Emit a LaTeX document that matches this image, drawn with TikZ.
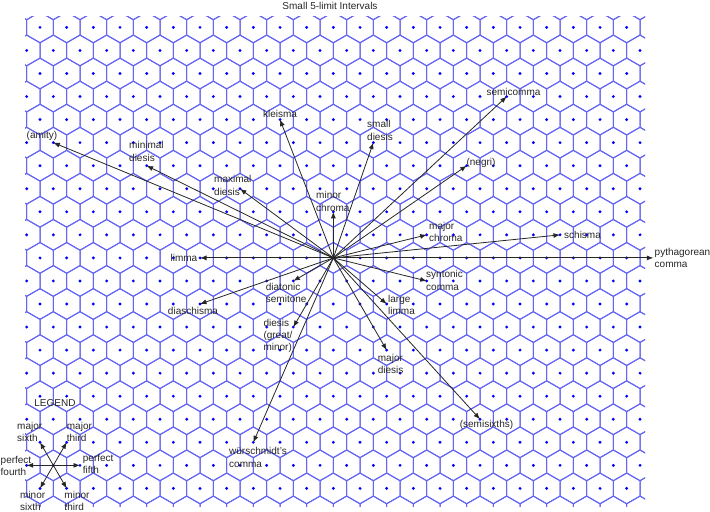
\documentclass[tikz,border=0pt]{standalone}
\usepackage{fontspec}
\setmainfont{Liberation Sans}
\usetikzlibrary{arrows.meta}
\definecolor{hexblue}{RGB}{100,100,245}
\definecolor{dotblue}{RGB}{0,0,255}
\tikzset{
 hexline/.style={draw=hexblue, line width=1bp, line join=round},
 latdot/.style={fill=dotblue},
 arr/.style={draw=black!85, line width=0.8bp, -{Latex[length=6.5bp,width=5bp]}},
 lbl/.style={font=\fontsize{10bp}{12.3bp}\selectfont, inner sep=0pt, align=left, text=black!85},
}
\newcommand{\latpt}[3]{\coordinate (#1) at ({333.333+26.6667*((#2)+(#3)/2)},{257.9-23.05*(#3)});}
\begin{document}
\begin{tikzpicture}[x=1bp,y=-1bp]
\useasboundingbox (0,0) rectangle (710,512);
% hexagonal cells
\begin{scope}
\clip (25,17) rectangle (645,506);
\foreach \k in {-1,...,21}{
  \pgfmathsetmacro{\yy}{27.4+23.05*\k}
  \pgfmathsetmacro{\xo}{isodd(\k+2) ? 26.6667 : 40}
  \foreach \n in {-2,...,25}{
    \pgfmathsetmacro{\xx}{\xo+26.6667*\n}
    \draw[hexline] (\xx,\yy-15.4) -- ++(13.333,7.7) -- ++(0,15.4) -- ++(-13.333,7.7) -- ++(-13.333,-7.7) -- ++(0,-15.4) -- cycle;
  }
}
\end{scope}
% lattice dots
\foreach \k in {0,...,20}{
  \pgfmathsetmacro{\yy}{27.4+23.05*\k}
  \pgfmathsetmacro{\xo}{isodd(\k) ? 26.6667 : 40}
  \foreach \n in {0,...,23}{
    \pgfmathsetmacro{\xx}{\xo+26.6667*\n}
    \ifdim\xx pt<645pt \fill[latdot] (\xx,\yy) circle (1.6bp);\fi
  }
}
% lattice points
\latpt{C}{0}{0}
\latpt{pyth}{12}{0}
\latpt{schis}{8}{1}
\latpt{synt}{4}{-1}
\latpt{majchr}{3}{1}
\latpt{minchr}{-1}{2}
\latpt{limma}{-5}{0}
\latpt{diat}{-1}{-1}
\latpt{diasch}{-4}{-2}
\latpt{dies}{0}{-3}
\latpt{wur}{1}{-8}
\latpt{majdies}{4}{-4}
\latpt{largel}{3}{-2}
\latpt{semis}{9}{-7}
\latpt{negri}{3}{4}
\latpt{semic}{3}{7}
\latpt{smalld}{-1}{5}
\latpt{kleis}{-5}{6}
\latpt{maxd}{-5}{3}
\latpt{mind}{-9}{4}
\latpt{amity}{-13}{5}
\latpt{L}{-6}{-9}
\latpt{L5}{-5}{-9}
\latpt{L4}{-7}{-9}
\latpt{LM3}{-6}{-8}
\latpt{LM6}{-7}{-8}
\latpt{Lm6}{-6}{-10}
\latpt{Lm3}{-5}{-10}
% arrows
\foreach \e in {pyth,schis,synt,majchr,minchr,limma,diat,diasch,dies,wur,majdies,largel,semis,negri,semic,smalld,kleis,maxd,mind,amity}{
  \draw[arr] (C) -- (\e);
}
\foreach \e in {L5,L4,LM3,LM6,Lm6,Lm3}{
  \draw[arr] (L) -- (\e);
}
% labels
\node[lbl] (title) at (330,5.5) {Small 5-limit Intervals};
\node[lbl] (tamity) at (42,135.5) {(amity)};
\node[lbl,anchor=west] (tmind) at (129,151.5) {minimal\\diesis};
\node[lbl,anchor=west] (tmaxd) at (214,185.5) {maximal\\diesis};
\node[lbl] (tkleis) at (280,114) {kleisma};
\node[lbl,anchor=west] (tsmalld) at (367,130.5) {small\\diesis};
\node[lbl] (tsemic) at (513.5,91.7) {semicomma};
\node[lbl] (tnegri) at (481,163) {(negri)};
\node[lbl,anchor=west] (tminchr) at (316,201.5) {minor\\chroma};
\node[lbl,anchor=west] (tmajchr) at (429,232) {major\\chroma};
\node[lbl,anchor=west] (tschis) at (564,235) {schisma};
\node[lbl,anchor=west] (tpyth) at (654.5,258) {pythagorean\\comma};
\node[lbl,anchor=east] (tlimma) at (197.5,257.7) {limma};
\node[lbl,anchor=west] (tsynt) at (426,280.5) {syntonic\\comma};
\node[lbl,anchor=west] (tdiat) at (265.7,293) {diatonic\\semitone};
\node[lbl] (tdiasch) at (193,311) {diaschisma};
\node[lbl,anchor=west] (tlargel) at (388,304.7) {large\\limma};
\node[lbl,anchor=west] (tdies) at (263.3,336) {diesis\\(great/\\minor)};
\node[lbl,anchor=west] (tmajdies) at (377.7,363.7) {major\\diesis};
\node[lbl] (tsemis) at (486.5,425) {(semisixths)};
\node[lbl,anchor=west] (twur) at (229,457.5) {würschmidt's\\comma};
% legend
\node[lbl] (tlegend) at (55,403) {LEGEND};
\node[lbl,anchor=west] (tLM6) at (17,432.2) {major\\sixth};
\node[lbl,anchor=west] (tLM3) at (66.7,432.2) {major\\third};
\node[lbl,anchor=west] (tL4) at (0.5,466) {perfect\\fourth};
\node[lbl,anchor=west] (tL5) at (82.7,464.2) {perfect\\fifth};
\node[lbl,anchor=west] (tLm6) at (20,501) {minor\\sixth};
\node[lbl,anchor=west] (tLm3) at (64.3,501) {minor\\third};
\end{tikzpicture}
\end{document}
